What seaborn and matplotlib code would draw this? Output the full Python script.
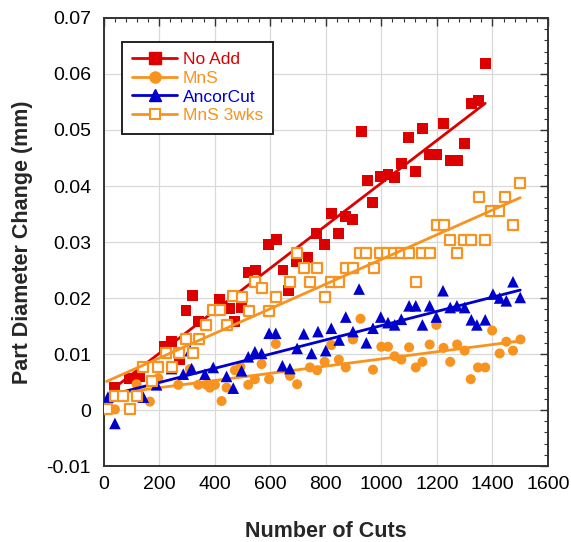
import numpy as np
import pandas as pd
import matplotlib
matplotlib.use("Agg")
import matplotlib.pyplot as plt
import seaborn as sns
from matplotlib.lines import Line2D
from matplotlib.ticker import MultipleLocator

# ---------------- data ----------------
noadd_cuts = [40, 92, 128, 221, 245, 275, 297, 321, 341, 394, 419, 452, 473, 497, 520, 548,
              593, 623, 646, 667, 695, 736, 768, 796, 822, 847, 871, 897, 928, 949, 969, 998,
              1024, 1048, 1072, 1098, 1124, 1148, 1174, 1198, 1224, 1248, 1273, 1300, 1324,
              1350, 1374]
noadd_vals = [0.0040, 0.0057, 0.0060, 0.0113, 0.0123, 0.0091, 0.0177, 0.0204, 0.0158, 0.0180,
              0.0198, 0.0182, 0.0158, 0.0183, 0.0245, 0.0250, 0.0295, 0.0304, 0.0250, 0.0213,
              0.0265, 0.0273, 0.0316, 0.0295, 0.0351, 0.0316, 0.0346, 0.0340, 0.0497, 0.0410,
              0.0370, 0.0417, 0.0421, 0.0416, 0.0440, 0.0487, 0.0426, 0.0502, 0.0457, 0.0457,
              0.0512, 0.0446, 0.0446, 0.0476, 0.0548, 0.0552, 0.0619]

mns_cuts = [17, 41, 119, 167, 197, 269, 311, 341, 371, 383, 401, 425, 443, 473, 493, 521, 545,
            569, 596, 620, 671, 697, 743, 769, 796, 820, 847, 872, 898, 925, 970, 1000, 1024,
            1048, 1072, 1100, 1124, 1148, 1174, 1198, 1224, 1248, 1273, 1300, 1322, 1348, 1374,
            1399, 1426, 1450, 1474, 1501]
mns_vals = [0.0001, 0.0001, 0.0046, 0.0015, 0.0057, 0.0045, 0.0073, 0.0045, 0.0045, 0.0040,
            0.0045, 0.0016, 0.0040, 0.0071, 0.0077, 0.0045, 0.0055, 0.0082, 0.0055, 0.0118,
            0.0061, 0.0046, 0.0076, 0.0071, 0.0086, 0.0116, 0.0090, 0.0076, 0.0126, 0.0163,
            0.0072, 0.0113, 0.0113, 0.0096, 0.0090, 0.0112, 0.0076, 0.0086, 0.0117, 0.0152,
            0.0111, 0.0086, 0.0117, 0.0106, 0.0055, 0.0076, 0.0076, 0.0142, 0.0101, 0.0122,
            0.0106, 0.0126]

ancor_cuts = [16, 41, 143, 191, 245, 287, 312, 317, 365, 395, 443, 467, 497, 521, 545, 569, 596,
              620, 644, 671, 697, 721, 749, 772, 800, 820, 848, 872, 898, 920, 946, 970, 998,
              1024, 1048, 1072, 1100, 1124, 1148, 1174, 1198, 1222, 1248, 1272, 1300, 1324,
              1344, 1374, 1402, 1426, 1450, 1474, 1500]
ancor_vals = [0.0023, -0.0024, 0.0023, 0.0045, 0.0074, 0.0064, 0.0106, 0.0074, 0.0064, 0.0076,
              0.0060, 0.0039, 0.0070, 0.0095, 0.0104, 0.0101, 0.0137, 0.0137, 0.0079, 0.0074,
              0.0110, 0.0136, 0.0101, 0.0140, 0.0106, 0.0146, 0.0125, 0.0166, 0.0140, 0.0216,
              0.0120, 0.0146, 0.0166, 0.0156, 0.0152, 0.0162, 0.0186, 0.0186, 0.0152, 0.0186,
              0.0166, 0.0213, 0.0183, 0.0186, 0.0183, 0.0161, 0.0152, 0.0161, 0.0207, 0.0200,
              0.0195, 0.0229, 0.0201]

mns3_cuts = [11, 41, 69, 95, 119, 143, 173, 197, 225, 245, 273, 297, 321, 345, 369, 395, 421,
             446, 467, 497, 523, 547, 569, 595, 620, 671, 697, 721, 745, 769, 796, 820, 847,
             872, 897, 922, 946, 973, 997, 1021, 1045, 1072, 1100, 1124, 1148, 1174, 1200,
             1224, 1248, 1274, 1296, 1324, 1350, 1374, 1396, 1423, 1447, 1474, 1500]
mns3_vals = [0.0001, 0.0025, 0.0025, 0.0001, 0.0025, 0.0076, 0.0052, 0.0076, 0.0102, 0.0076,
             0.0102, 0.0126, 0.0102, 0.0126, 0.0152, 0.0179, 0.0179, 0.0152, 0.0203, 0.0202,
             0.0177, 0.0229, 0.0217, 0.0177, 0.0202, 0.0229, 0.0280, 0.0253, 0.0229, 0.0253,
             0.0202, 0.0229, 0.0229, 0.0253, 0.0253, 0.0280, 0.0280, 0.0253, 0.0280, 0.0280,
             0.0280, 0.0280, 0.0280, 0.0229, 0.0280, 0.0280, 0.0330, 0.0330, 0.0304, 0.0280,
             0.0304, 0.0304, 0.0380, 0.0304, 0.0355, 0.0355, 0.0381, 0.0330, 0.0405]

series_names = ["No Add", "MnS", "AncorCut", "MnS 3wks"]
series_colors = ["#DD0000", "#F7931E", "#0000CC", "#F7931E"]

x_ticks = [0, 200, 400, 600, 800, 1000, 1200, 1400, 1600]
y_ticks = [-0.01, 0, 0.01, 0.02, 0.03, 0.04, 0.05, 0.06, 0.07]
y_tick_labels = ["-0.01", "0", "0.01", "0.02", "0.03", "0.04", "0.05", "0.06", "0.07"]

# ---------------- plot ----------------
sns.set_theme(style="white")
plt.rcParams["font.family"] = ["Liberation Sans", "DejaVu Sans"]
plt.rcParams["axes.unicode_minus"] = False

fig = plt.figure(figsize=(5.71, 5.42), dpi=100)
ax = fig.add_axes([0.1813, 0.1402, 0.7784, 0.8266])

data = [(noadd_cuts, noadd_vals), (mns_cuts, mns_vals),
        (ancor_cuts, ancor_vals), (mns3_cuts, mns3_vals)]
markers = ["s", "o", "^", "s"]
sizes = [62, 52, 70, 44]

for i, ((xc, yv), name, col, mk, sz) in enumerate(zip(data, series_names, series_colors, markers, sizes)):
    df = pd.DataFrame({"cuts": xc, "val": yv})
    if name == "MnS 3wks":
        skw = dict(s=sz, facecolors="white", edgecolors=col, linewidths=1.6, alpha=1, zorder=3 + i)
    else:
        skw = dict(s=sz, edgecolors="none", linewidths=0, alpha=1, zorder=3 + i)
    sns.regplot(data=df, x="cuts", y="val", ax=ax, ci=None, truncate=True,
                marker=mk, color=col, scatter_kws=skw,
                line_kws=dict(lw=2.0, zorder=3 + i + 0.5))

ax.set_xlim(0, 1600)
ax.set_ylim(-0.01, 0.07)
ax.set_xticks(x_ticks)
ax.set_xticklabels([str(v) for v in x_ticks])
ax.set_yticks(y_ticks)
ax.set_yticklabels(y_tick_labels)
ax.xaxis.set_minor_locator(MultipleLocator(40))
ax.yaxis.set_minor_locator(MultipleLocator(0.002))
ax.tick_params(which="both", direction="in", top=True, right=True, colors="#333333",
               labelcolor="black", labelsize=14)
ax.tick_params(which="major", length=6, width=1.0)
ax.tick_params(which="minor", length=3, width=0.8)
ax.tick_params(axis="x", pad=7)
ax.tick_params(axis="y", pad=9)

ax.grid(True, which="major", color="#d9d9d9", lw=0.9)
ax.set_axisbelow(True)
for sp in ax.spines.values():
    sp.set_color("#333333")
    sp.set_linewidth(1.4)

ax.set_xlabel("Number of Cuts", fontsize=15.5, fontweight="bold", labelpad=20)
ax.set_ylabel("Part Diameter Change (mm)", fontsize=15.5, fontweight="bold", labelpad=10)

handles = []
for name, col, mk in zip(series_names, series_colors, markers):
    if name == "MnS 3wks":
        h = Line2D([0], [0], color=col, lw=2, marker=mk, markersize=7,
                   markerfacecolor="white", markeredgecolor=col, markeredgewidth=1.5)
    else:
        h = Line2D([0], [0], color=col, lw=2, marker=mk, markersize=8,
                   markerfacecolor=col, markeredgecolor=col)
    handles.append(h)
leg = ax.legend(handles, series_names, loc="upper left", bbox_to_anchor=(0.041, 0.947),
                borderaxespad=0, fontsize=12.5, handlelength=2.6, handletextpad=0.3,
                labelspacing=0.2, borderpad=0.6, fancybox=False, framealpha=1,
                edgecolor="#222222")
leg.get_frame().set_linewidth(1.4)
for txt, col in zip(leg.get_texts(), series_colors):
    txt.set_color(col)

fig.savefig("out.png", dpi=100)
